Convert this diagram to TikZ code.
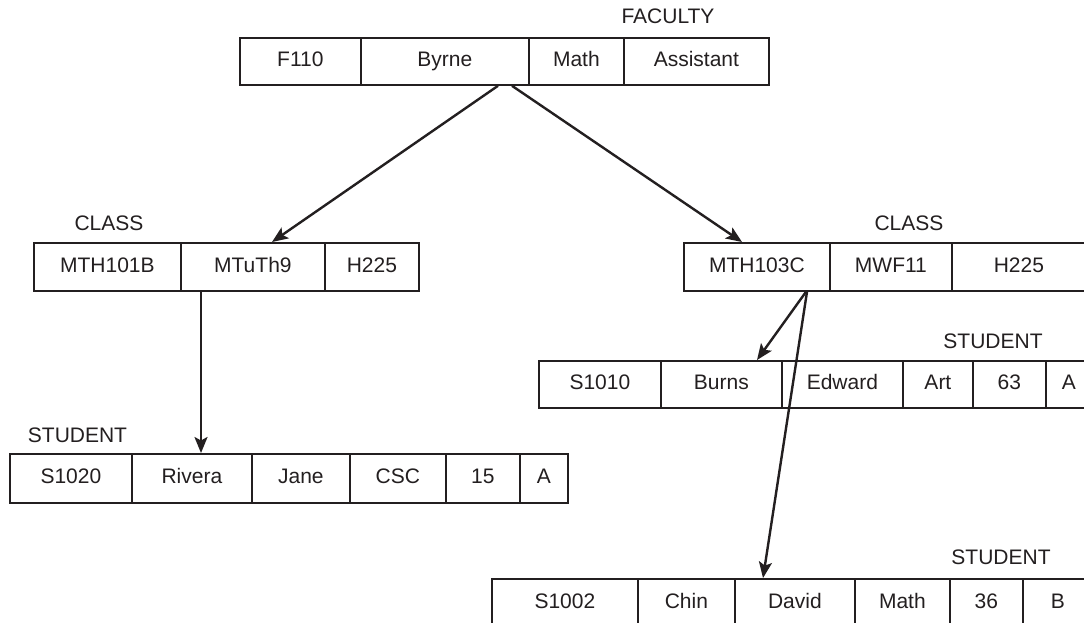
\documentclass[tikz,border=0pt]{standalone}
\usepackage{fontspec}
\setmainfont{Liberation Sans}
\usetikzlibrary{arrows.meta}
\definecolor{ink}{RGB}{35,31,32}
\newcommand\rcell[6]{\node[cell, minimum width={#3-#2}, minimum height={#5-#4}, anchor=north west] (#1) at (#2,-#4) {#6};}
\begin{document}
\begin{tikzpicture}[x=1pt,y=1pt,
  cell/.style={draw=ink, line width=1.8pt, rectangle, inner sep=0pt, text=ink,
    font=\fontsize{21}{24}\selectfont, text height=15pt, text depth=4pt},
  lbl/.style={inner sep=0pt, text=ink, font=\fontsize{21}{24}\selectfont,
    text height=15pt, text depth=0pt},
  arr/.style={draw=ink, line width=2.4pt, -{Stealth[length=16pt, width=13pt, inset=3.5pt]}}]
\clip (0,0) rectangle (1084,-622);
\fill[white] (0,0) rectangle (1084,-622);
% FACULTY
\node[lbl] (lfac) at (668,-16) {FACULTY};
\rcell{fa}{239}{360}{37}{84}{F110}
\rcell{fb}{360}{528}{37}{84}{Byrne}
\rcell{fc}{528}{623}{37}{84}{Math}
\rcell{fd}{623}{768}{37}{84}{Assistant}
% left CLASS
\node[lbl] (lcl) at (109,-223) {CLASS};
\rcell{cl1}{33}{180}{242}{290}{MTH101B}
\rcell{cl2}{180}{324}{242}{290}{MTuTh9}
\rcell{cl3}{324}{418}{242}{290}{H225}
% right CLASS
\node[lbl] (lcr) at (909,-223) {CLASS};
\rcell{cr1}{683}{829}{242}{290}{MTH103C}
\rcell{cr2}{829}{951}{242}{290}{MWF11}
\rcell{cr3}{951}{1085}{242}{290}{H225}
% left STUDENT
\node[lbl] (lsl) at (77.5,-435) {STUDENT};
\rcell{ls1}{9}{131}{453}{502}{S1020}
\rcell{ls2}{131}{251}{453}{502}{Rivera}
\rcell{ls3}{251}{349}{453}{502}{Jane}
\rcell{ls4}{349}{445}{453}{502}{CSC}
\rcell{ls5}{445}{519}{453}{502}{15}
\rcell{ls6}{519}{567}{453}{502}{A}
% right STUDENT 1
\node[lbl] (ls1l) at (993,-341) {STUDENT};
\rcell{sa}{538}{660}{360}{407}{S1010}
\rcell{sb}{660}{781}{360}{407}{Burns}
\rcell{sc}{781}{902}{360}{407}{Edward}
\rcell{sd}{902}{972}{360}{407}{Art}
\rcell{se}{972}{1045}{360}{407}{63}
\rcell{sf}{1045}{1091}{360}{407}{A}
% right STUDENT 2
\node[lbl] (ls2l) at (1001,-557) {STUDENT};
\rcell{ta}{491}{637}{578}{626}{S1002}
\rcell{tb}{637}{734}{578}{626}{Chin}
\rcell{tc}{734}{854}{578}{626}{David}
\rcell{td}{854}{949}{578}{626}{Math}
\rcell{te}{949}{1022}{578}{626}{36}
\rcell{tf}{1022}{1092}{578}{626}{B}
% connectors
\draw[arr] ([xshift=138pt]fb.south west) -- ([xshift=92pt]cl2.north west);
\draw[arr] ([xshift=152pt]fb.south west) -- ([xshift=59pt]cr1.north west);
\draw[arr] ([xshift=21pt]cl2.south west) -- ([xshift=70pt]ls2.north west);
\draw[arr] ([xshift=123pt]cr1.south west) -- ([xshift=97pt]sb.north west);
\draw[arr] ([xshift=124pt]cr1.south west) -- ([xshift=29pt]tc.north west);
\end{tikzpicture}
\end{document}
